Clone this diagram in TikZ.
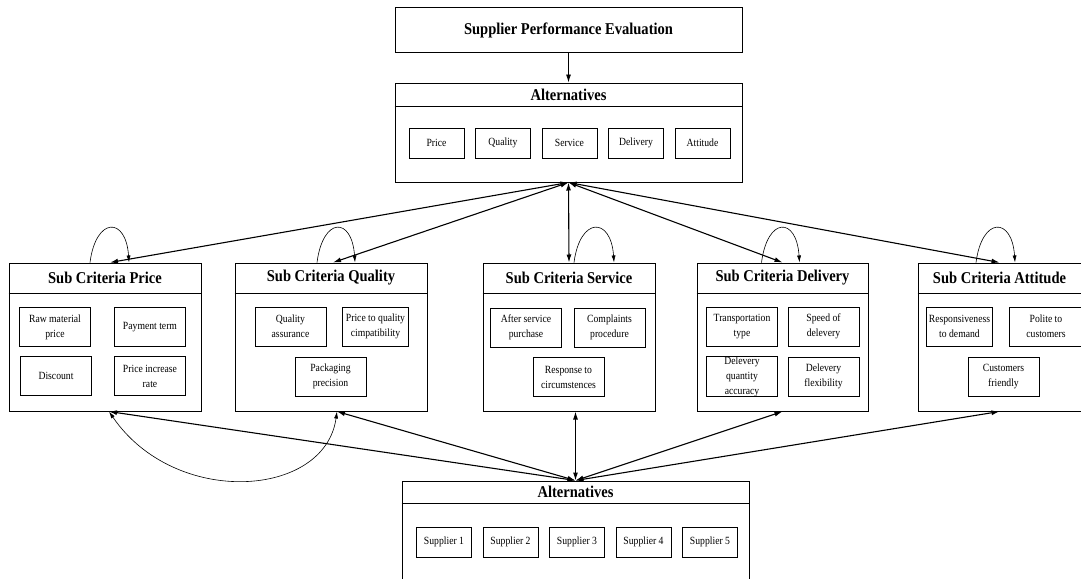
\documentclass[tikz,border=0pt]{standalone}
\usepackage{fontspec}
\setmainfont{Liberation Serif}[FakeStretch=0.88]
\usetikzlibrary{arrows.meta}
\tikzset{
  panel/.style={draw, line width=1pt, rectangle, inner sep=0pt},
  head/.style={font=\bfseries\fontsize{16.5}{18}\selectfont},
  item/.style={draw, line width=0.8pt, minimum width=71pt, minimum height=39pt, inner xsep=1pt, inner ysep=0pt, align=center, font=\fontsize{11}{15}\selectfont},
  tag/.style={draw, line width=0.8pt, minimum width=55pt, minimum height=30pt, font=\fontsize{11}{13}\selectfont},
  link/.style={line width=1.1pt, {Latex[length=8pt,width=5pt]}-{Latex[length=8pt,width=5pt]}},
  selfloop/.style={line width=0.6pt, -{Latex[length=7pt,width=4pt]}}
}
\begin{document}
\begin{tikzpicture}[x=1pt,y=-1pt]
\useasboundingbox (0,0) rectangle (1081,578);
\clip (0,0) rectangle (1081,578);
\node[panel, minimum width=347pt, minimum height=45pt, head] (eval) at (568.5,30.5) {Supplier Performance Evaluation};
\node[panel, minimum width=347pt, minimum height=99pt] (altA) at (568.5,132.5) {};
\draw[line width=1pt] ([yshift=-24pt]altA.north west) -- ([yshift=-24pt]altA.north east);
\node[head] (altAh) at ([yshift=-12pt]altA.north) {Alternatives};
\foreach \ttl [count=\i] in {Price,Quality,Service,Delivery,Attitude}
  \node[tag] (crit\i) at (370+66.5*\i,143) {\ttl};
\node[panel, minimum width=347pt, minimum height=119pt] (altB) at (575.5,540.5) {};
\draw[line width=1pt] ([yshift=-23pt]altB.north west) -- ([yshift=-23pt]altB.north east);
\node[head] (altBh) at ([yshift=-11.5pt]altB.north) {Alternatives};
\foreach \i in {1,...,5}
  \node[tag] (sup\i) at (377.5+66.5*\i,542) {Supplier \i};
\foreach \nm/\cx/\bw/\ttl in {price/105/192/Price, quality/331/192/Quality, service/569/172/Service, delivery/782.5/171/Delivery, attitude/999.5/163/Attitude}{
  \node[panel, minimum width=\bw pt, minimum height=148pt] (\nm) at (\cx,337) {};
  \draw[line width=1pt] ([yshift=-31pt]\nm.north west) -- ([yshift=-31pt]\nm.north east);
  \node[head] (\nm h) at ([yshift=-15.5pt]\nm.north) {Sub Criteria \ttl};
}
\node[item] (p1) at (55,327) {Raw material\\price};
\node[item] (p2) at (150,327) {Payment term};
\node[item] (p3) at (56,376) {Discount};
\node[item] (p4) at (150,376) {Price increase\\rate};
\node[item] (q1) at (290.5,326.5) {Quality\\assurance};
\node[item, minimum width=66pt] (q2) at (375.5,326.5) {Price to quality\\cimpatibility};
\node[item] (q3) at (330.5,376.5) {Packaging\\precision};
\node[item] (s1) at (526,327.5) {After service\\purchase};
\node[item] (s2) at (609.5,327.5) {Complaints\\procedure};
\node[item] (s3) at (568.5,377) {Response to\\circumstences};
\node[item] (d1) at (742,326.5) {Transportation\\type};
\node[item] (d2) at (823.5,326.5) {Speed of\\delevery};
\node[item] (d3) at (742,376.5) {Delevery\\quantity\\accuracy};
\node[item] (d4) at (823.5,376.5) {Delevery\\flexibility};
\node[item, minimum width=66pt] (a1) at (959.5,326.5) {Responsiveness\\to demand};
\node[item, minimum width=74pt] (a2) at (1046,326.5) {Polite to\\customers};
\node[item] (a3) at (1003.5,377) {Customers\\friendly};
\draw[line width=0.8pt, -{Latex[length=8pt,width=5pt]}] (eval) -- (altA);
\draw[link] (altA.south) -- ([xshift=5pt]price.north);
\draw[link] (altA.south) -- ([xshift=2pt]quality.north);
\draw[link] (altA.south) -- (service.north);
\draw[link] (altA.south) -- (delivery.north);
\draw[link] (altA.south) -- (attitude.north);
\draw[link] (altB.north) -- ([xshift=4pt]price.south);
\draw[link] (altB.north) -- ([xshift=6pt]quality.south);
\draw[link] (altB.north) -- (service.south -| altB.north);
\draw[link] (altB.north) -- (delivery.south);
\draw[link] (altB.north) -- (attitude.south);
\draw[selfloop] ([xshift=-15pt]price.north) .. controls +(6,-46) and +(-3,-46) .. ([xshift=24pt]price.north);
\draw[selfloop] ([xshift=-14pt]quality.north) .. controls +(6,-46) and +(-3,-46) .. ([xshift=24pt]quality.north);
\draw[selfloop] ([xshift=5pt]service.north) .. controls +(6,-46) and +(-3,-46) .. ([xshift=45pt]service.north);
\draw[selfloop] ([xshift=-21pt]delivery.north) .. controls +(6,-46) and +(-3,-46) .. ([xshift=17pt]delivery.north);
\draw[selfloop] ([xshift=-23.5pt]attitude.north) .. controls +(6,-46) and +(-3,-46) .. ([xshift=15.5pt]attitude.north);
\draw[selfloop, {Latex[length=7pt,width=4pt]}-{Latex[length=7pt,width=4pt]}] ([xshift=4pt]price.south) .. controls (175,508) and (325,498) .. ([xshift=6pt]quality.south);
\end{tikzpicture}
\end{document}
